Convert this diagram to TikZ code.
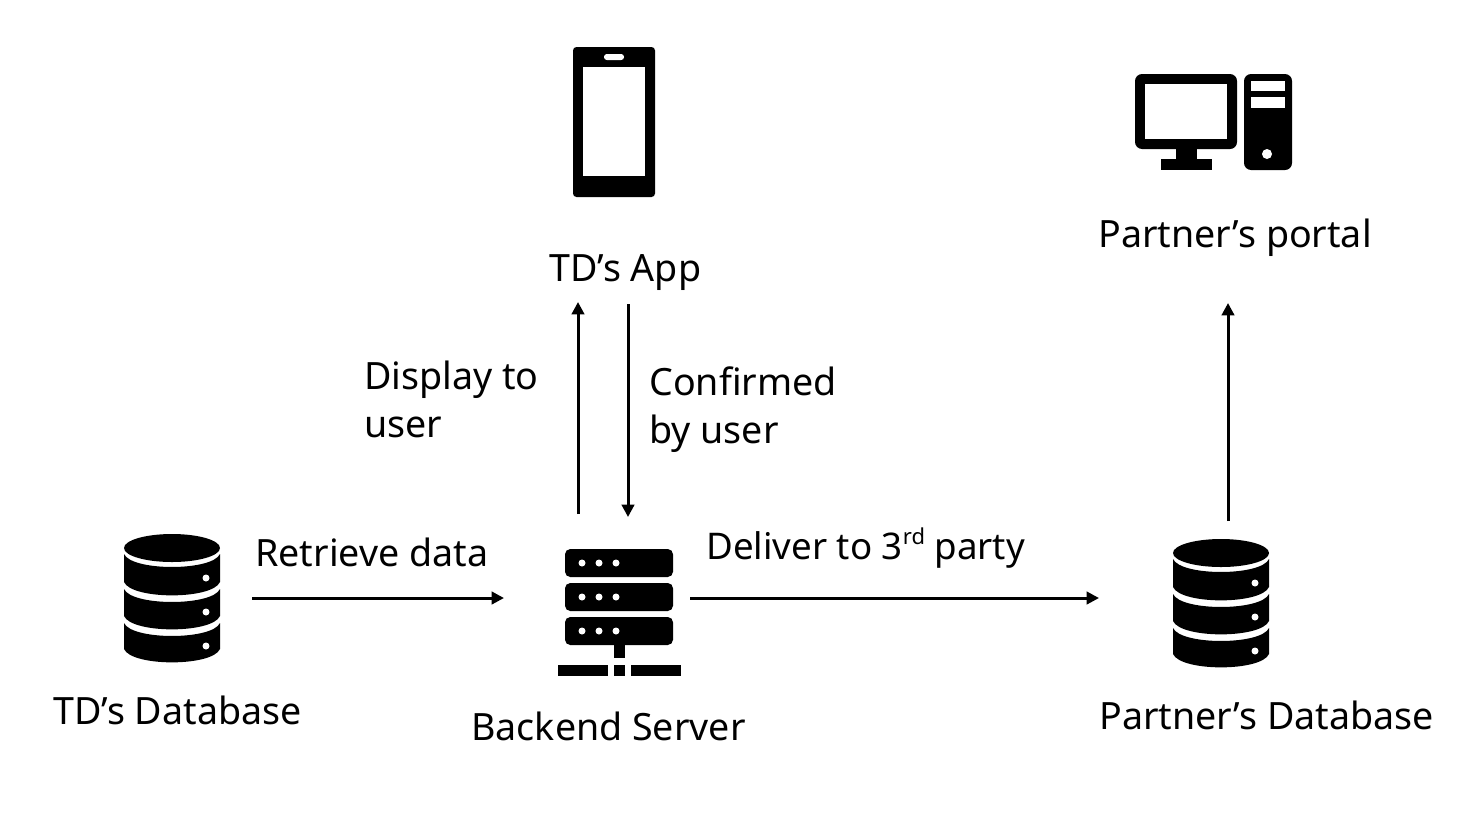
\documentclass[tikz,border=0pt]{standalone}
\usepackage{fontspec}
\setmainfont{Noto Sans}
\usetikzlibrary{arrows.meta}
\tikzset{
  caption/.style={anchor=base west, inner sep=0pt, align=left, font=\fontsize{21.4}{27.3}\selectfont},
  flow/.style={line width=1.7pt, -{Triangle[length=7pt, width=7pt]}},
  dbicon/.pic={
    \fill (48, 14) ellipse [x radius = 48, y radius = 14];
    \foreach \t/\b in {20/48, 55/82, 89/115} {
      \fill (0, \t) .. controls (8, \t + 17.3) and (88, \t + 17.3) .. (96, \t) -- (96, \b)
        .. controls (88, \b + 17.8) and (8, \b + 17.8) .. (0, \b) -- cycle;
    }
    \foreach \y in {44, 78, 112} {
      \fill [white] (82, \y) circle [radius = 3.5];
    }
  }
}
\begin{document}
\begin{tikzpicture}[x=0.02cm, y=-0.02cm]
        \useasboundingbox (0, 0) rectangle (1470, 816);
        \pic at (124, 534) {dbicon};
        \pic at (1173, 539) {dbicon};
        \foreach \y in {549, 583, 617} {
          \fill [rounded corners=3pt] (565, \y) rectangle (673, \y + 28);
          \foreach \x in {582, 599, 616} {
            \fill [white] (\x, \y + 14) circle [radius = 3.5];
          }
        }
        \fill (614, 645) rectangle (625, 658);
        \fill (558, 665) rectangle (608, 676);
        \fill (614, 665) rectangle (625, 676);
        \fill (631, 665) rectangle (681, 676);
        \fill [rounded corners=2pt] (573, 47) rectangle (655, 197);
        \fill [white] (583, 67) rectangle (645, 176);
        \fill [white, rounded corners=1.6pt] (604, 54) rectangle (624, 60);
        \fill [rounded corners=4pt] (1135, 74) rectangle (1237, 149);
        \fill [white] (1145, 84) rectangle (1227, 139);
        \fill (1176, 149) rectangle (1197, 159);
        \fill (1161, 159) rectangle (1212, 170);
        \fill [rounded corners=4pt] (1244, 74) rectangle (1292, 170);
        \fill [white] (1251, 81) rectangle (1285, 91);
        \fill [white] (1251, 97) rectangle (1285, 108);
        \fill [white] (1267, 154) circle [radius = 5];
        \node [caption] (tddb) at (53, 724) {TD’s Database};
        \node [caption] (backend) at (471, 740) {Backend Server};
        \node [caption] (partnerdb) at (1099, 729) {Partner’s Database};
        \node [caption] (portal) at (1098, 247) {Partner’s portal};
        \node [caption] (app) at (549, 281) {TD’s App};
        \node [caption] (display) at (364, 437) {Display to\\user};
        \node [caption] (confirmed) at (649, 443) {Confirmed\\by user};
        \node [caption] (retrieve) at (255, 566) {Retrieve data};
        \node [caption, font=\fontsize{20.9}{27.3}\selectfont] (deliver) at (706, 559) {Deliver to 3\raisebox{8pt}{\fontsize{12.5}{13}\selectfont rd} party};
        \coordinate (dbout) at (252, 598);
        \coordinate (srvin) at (504, 598);
        \coordinate (srvout) at (690, 598);
        \coordinate (pdbin) at (1099, 598);
        \coordinate (srvup) at (578, 514);
        \coordinate (appin) at (578, 302);
        \coordinate (appout) at (628, 304);
        \coordinate (srvtop) at (628, 517);
        \coordinate (pdbup) at (1228, 521);
        \coordinate (portalin) at (1228, 303);
        \draw [flow] (dbout) -- (srvin);
        \draw [flow] (srvout) -- (pdbin);
        \draw [flow] (srvup) -- (appin);
        \draw [flow] (appout) -- (srvtop);
        \draw [flow] (pdbup) -- (portalin);
      \end{tikzpicture}
\end{document}
